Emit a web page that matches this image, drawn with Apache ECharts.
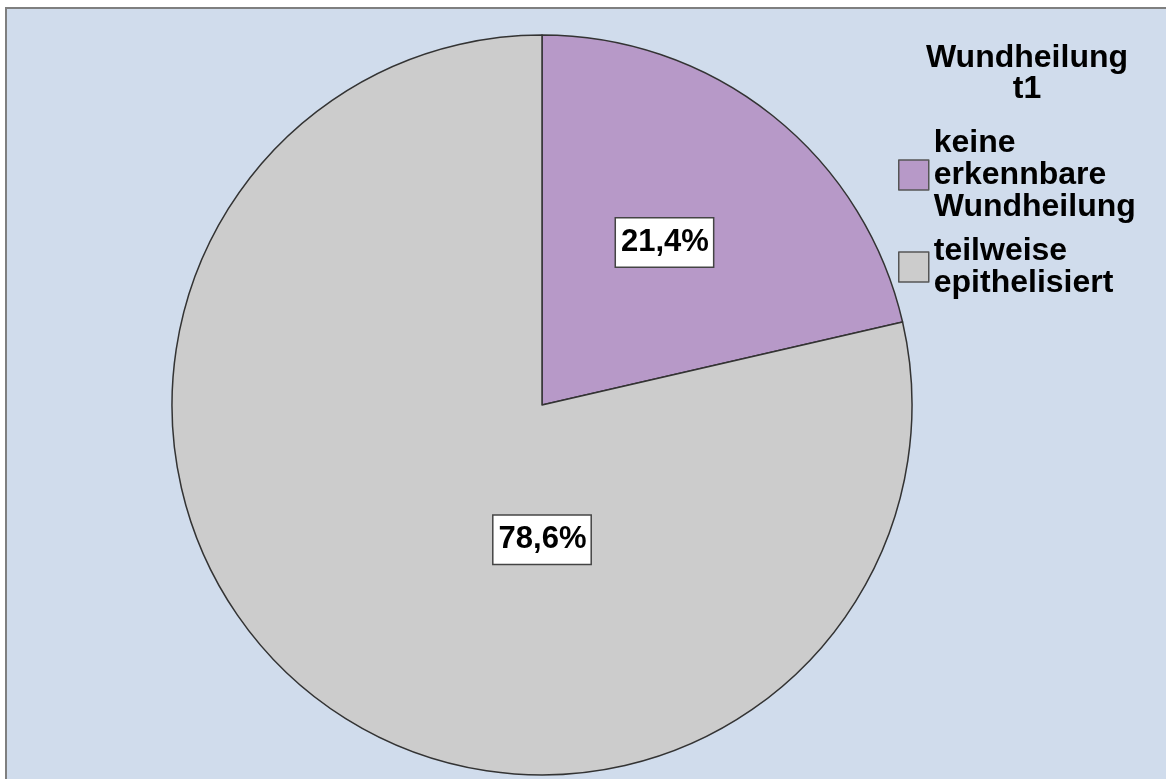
<!DOCTYPE html>
<html>
<head>
<meta charset="utf-8">
<script src="https://cdn.jsdelivr.net/npm/echarts@6/dist/echarts.min.js"></script>
<style>
  html, body { margin: 0; padding: 0; background: #ffffff; }
  #chart { width: 1166px; height: 779px; }
</style>
</head>
<body>
<div id="chart"></div>
<script>
// Wundheilung zum Zeitpunkt t1 – Anteile in Prozent
const categories = ['keine erkennbare Wundheilung', 'teilweise epithelisiert'];
const percentages = [21.4, 78.6];
const sliceColors = ['#B799C8', '#CCCCCC'];
const legendTitle = 'Wundheilung\nt1';

// pie geometry
const CX = 542, CY = 405, R = 370;
// label placement per slice: [angle from 12 o'clock (deg, clockwise), fraction of radius]
const labelPlacement = [[37, 0.55], [180, 0.364]];

const chart = echarts.init(document.getElementById('chart'), null, { renderer: 'canvas' });

const fmt = v => v.toFixed(1).replace('.', ',') + '%';

chart.setOption({
  backgroundColor: '#ffffff',
  animation: false,
  graphic: [
    {
      type: 'rect',
      z: -10,
      shape: { x: 6, y: 8, width: 1200, height: 800 },
      style: { fill: '#D0DCEC', stroke: '#7F7F7F', lineWidth: 2 }
    },
    {
      type: 'text',
      z: 10,
      x: 1027,
      y: 43,
      style: {
        text: legendTitle,
        align: 'center',
        verticalAlign: 'top',
        font: 'bold 32px "Liberation Sans", Arial, sans-serif',
        lineHeight: 31,
        fill: '#000000'
      }
    }
  ],
  legend: {
    orient: 'vertical',
    left: 898,
    top: 127,
    padding: 0,
    itemWidth: 30,
    itemHeight: 30,
    itemGap: 12,
    selectedMode: false,
    icon: 'rect',
    itemStyle: { borderColor: '#555555', borderWidth: 1.5 },
    formatter: name => name.split(' ').join('\n'),
    textStyle: {
      fontFamily: '"Liberation Sans", Arial, sans-serif',
      fontWeight: 'bold',
      fontSize: 32,
      lineHeight: 32,
      color: '#000000',
      padding: 0
    },
    data: categories
  },
  series: [{
    type: 'pie',
    center: [CX, CY],
    radius: [0, R],
    startAngle: 90,
    clockwise: true,
    silent: true,
    data: categories.map((c, i) => ({
      name: c,
      value: percentages[i],
      itemStyle: { color: sliceColors[i] }
    })),
    itemStyle: { borderColor: '#333333', borderWidth: 1.5 },
    label: {
      show: true,
      position: 'inside',
      formatter: p => fmt(p.value),
      fontFamily: '"Liberation Sans", Arial, sans-serif',
      fontWeight: 'bold',
      fontSize: 31,
      lineHeight: 36,
      color: '#000000',
      backgroundColor: '#ffffff',
      borderColor: '#444444',
      borderWidth: 1.5,
      padding: [6, 4, 6, 5]
    },
    labelLine: { show: false },
    labelLayout: params => {
      const [deg, frac] = labelPlacement[params.dataIndex];
      const a = deg * Math.PI / 180;
      return {
        x: CX + Math.sin(a) * R * frac,
        y: CY - Math.cos(a) * R * frac,
        align: 'center',
        verticalAlign: 'middle'
      };
    }
  }]
});
</script>
</body>
</html>
